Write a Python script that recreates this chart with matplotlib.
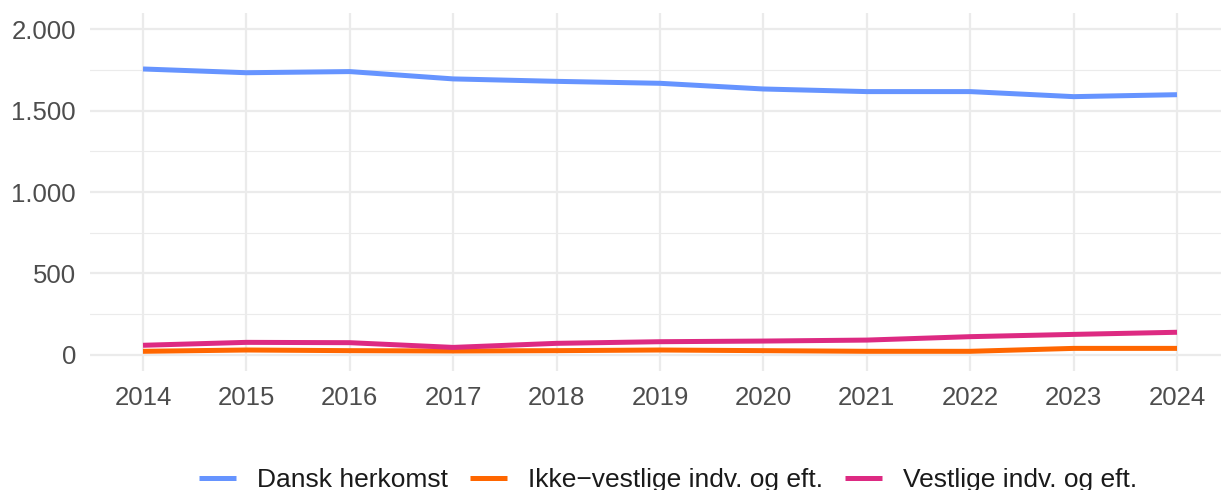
import matplotlib.pyplot as plt
from matplotlib.ticker import FuncFormatter, MultipleLocator

plt.rcParams['font.family'] = ['Liberation Sans', 'DejaVu Sans']

# data
years = [2014, 2015, 2016, 2017, 2018, 2019, 2020, 2021, 2022, 2023, 2024]
dansk = [1756, 1733, 1740, 1695, 1680, 1668, 1633, 1617, 1617, 1586, 1598]
ikke_vestlige = [21, 29, 25, 23, 25, 29, 25, 21, 21, 39, 39]
vestlige = [58, 76, 74, 45, 70, 80, 84, 90, 111, 125, 138]

labels = ["Dansk herkomst", "Ikke\u2212vestlige indv. og eft.", "Vestlige indv. og eft."]
colors = ["#6694FF", "#FF6600", "#DD2A82"]

fig = plt.figure(figsize=(12.21, 4.9), dpi=100)
ax = fig.add_axes([90 / 1221, 1 - 371 / 490, 1 - 90 / 1221, (371 - 13) / 490])

for vals, lab, col in zip([dansk, ikke_vestlige, vestlige], labels, colors):
    ax.plot(years, vals, color=col, lw=3.6, label=lab, solid_capstyle='butt')

ax.set_xlim(2014 - 53 / 103.4, 2024 + 44 / 103.4)
ax.set_ylim(-100, 2100)
ax.set_xticks(years)
ax.yaxis.set_major_locator(MultipleLocator(500))
ax.yaxis.set_minor_locator(MultipleLocator(250))
ax.yaxis.set_major_formatter(FuncFormatter(lambda v, p: f"{int(v):,}".replace(",", ".")))

ax.grid(which='major', color='#EBEBEB', lw=1.6)
ax.grid(which='minor', axis='y', color='#EBEBEB', lw=0.8)
ax.set_axisbelow(True)
for s in ax.spines.values():
    s.set_visible(False)
ax.tick_params(which='both', length=0, labelsize=18.5, labelcolor='#4D4D4D')
ax.tick_params(axis='y', pad=10)
ax.tick_params(axis='x', pad=11)

leg = fig.legend(loc='center', bbox_to_anchor=(668 / 1221, 1 - 480 / 490), ncol=3,
                 frameon=False, fontsize=19, handlelength=1.4, handletextpad=0.8,
                 columnspacing=0.82)
for t in leg.get_texts():
    t.set_color('#1A1A1A')

fig.savefig("out.png", dpi=100)
